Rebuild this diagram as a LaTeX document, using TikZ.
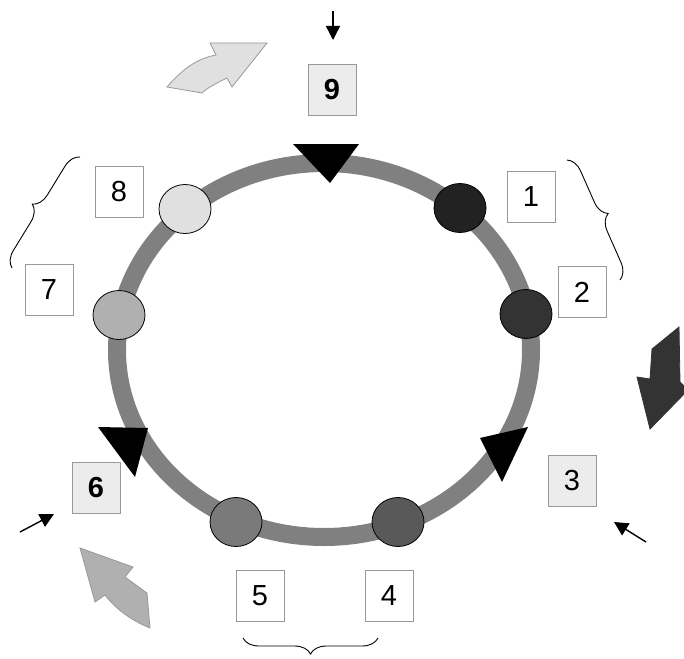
\documentclass[tikz,border=0pt]{standalone}
\usepackage{fontspec}
\setmainfont{Liberation Sans}
\usetikzlibrary{calc,positioning,shapes.geometric,arrows.meta,decorations.pathreplacing}
\definecolor{ringgray}{HTML}{808080}
\definecolor{boxline}{HTML}{999999}
\definecolor{boxfill}{HTML}{ECECEC}
\begin{document}
\begin{tikzpicture}[x=1pt,y=-1pt,
	numbox/.style={draw=boxline,line width=1pt,fill=white,minimum width=48pt,minimum height=51pt,inner sep=0pt,font=\fontsize{29}{32}\selectfont},
	keybox/.style={numbox,fill=boxfill,font=\fontsize{29}{32}\selectfont\bfseries},
	dot/.style={ellipse,draw=black,line width=0.8pt,minimum width=52pt,minimum height=49pt,inner sep=0pt},
	curly/.style={decorate,decoration={brace,amplitude=16pt},line width=0.9pt},
	pointer/.style={line width=1.4pt,-{Triangle[length=14pt,width=14pt]}}]%%%ring of nine steps
\useasboundingbox (0,0) rectangle (684,658);
\draw[ringgray,line width=18pt] (324,350) ellipse [x radius=207,y radius=187];
\fill (293,144) -- (359,144) -- (330,183) -- cycle;
\fill (480,438) -- (528,427) -- (502,482) -- cycle;
\fill (98,427) -- (148,428) -- (135,477) -- cycle;
\node[dot,fill={rgb,255:red,34;green,34;blue,34}] (c1) at (460,208) {};
\node[dot,fill={rgb,255:red,51;green,51;blue,51}] (c2) at (526,314) {};
\node[dot,fill={rgb,255:red,89;green,89;blue,89}] (c4) at (398,522) {};
\node[dot,fill={rgb,255:red,122;green,122;blue,122}] (c5) at (236,522) {};
\node[dot,fill={rgb,255:red,176;green,176;blue,176}] (c7) at (119,315) {};
\node[dot,fill={rgb,255:red,224;green,224;blue,224}] (c8) at (185,209) {};
\node[numbox] (n1) at (531,197) {1};
\node[numbox] (n2) at (582,292) {2};
\node[keybox,font=\fontsize{29}{32}\selectfont] (n3) at (572,481) {3};
\node[numbox] (n4) at (389,596) {4};
\node[numbox] (n5) at (260,596) {5};
\node[keybox] (n6) at (96,488) {6};
\node[numbox] (n7) at (49,290) {7};
\node[numbox] (n8) at (119,192) {8};
\node[keybox] (n9) at (332,90) {9};
\draw[curly] (567,160) -- (620,280);
\draw[curly] (12,268) -- (80,157);
\draw[curly] (378,638) -- (243,638);
\coordinate (t9) at (333,11); \coordinate (h9) at (333,40);
\coordinate (t3) at (646,542); \coordinate (h3) at (614,522);
\coordinate (t6) at (20,532); \coordinate (h6) at (54,514);
\draw[pointer] (t9) -- (h9);
\draw[pointer] (t3) -- (h3);
\draw[pointer] (t6) -- (h6);
\filldraw[fill={rgb,255:red,224;green,224;blue,224},draw=boxline,line width=0.8pt]
	(167,87) .. controls (185,66) and (200,58) .. (216,55) -- (210,43) -- (267,43) -- (232,87)
	-- (227,78) .. controls (215,84) and (207,88) .. (202,93) -- cycle;
\filldraw[fill={rgb,255:red,51;green,51;blue,51},draw={rgb,255:red,51;green,51;blue,51},line width=0.8pt]
	(652,349) -- (679,327) -- (680,382) -- (688,390) -- (650,429)
	-- (637,377) -- (650,379) -- cycle;
\filldraw[fill={rgb,255:red,176;green,176;blue,176},draw=boxline,line width=0.8pt]
	(80,548) -- (133,567) -- (125,577) -- (147,593) -- (150,628)
	.. controls (130,620) and (115,608) .. (105,595) -- (95,602) -- cycle;
\end{tikzpicture}
\end{document}
